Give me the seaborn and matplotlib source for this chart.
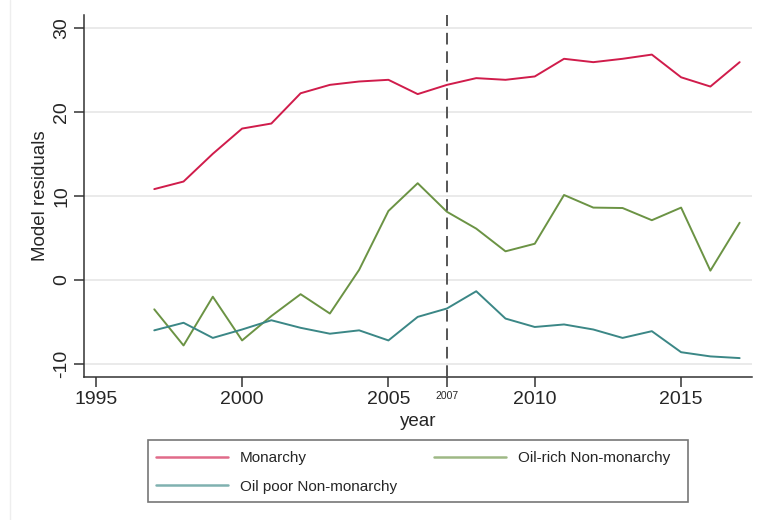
import numpy as np
import pandas as pd
import matplotlib
matplotlib.use("Agg")
import matplotlib.pyplot as plt
import seaborn as sns
from matplotlib.lines import Line2D
from matplotlib.patches import Rectangle

# values
years = list(range(1997, 2018))
monarchy = [10.8, 11.7, 15.0, 18.0, 18.6, 22.2, 23.2, 23.6, 23.8, 22.1, 23.2,
            24.0, 23.8, 24.2, 26.3, 25.9, 26.3, 26.8, 24.1, 23.0, 25.9]
oil_rich = [-3.5, -7.8, -2.0, -7.2, -4.3, -1.7, -4.0, 1.2, 8.2, 11.5, 8.1,
            6.1, 3.4, 4.3, 10.1, 8.6, 8.55, 7.1, 8.6, 1.1, 6.8]
oil_poor = [-6.0, -5.1, -6.9, -5.9, -4.8, -5.7, -6.4, -6.0, -7.2, -4.4, -3.4,
            -1.35, -4.6, -5.6, -5.3, -5.9, -6.9, -6.1, -8.6, -9.1, -9.3]

groups = ["Monarchy", "Oil-rich Non-monarchy", "Oil poor Non-monarchy"]
colors = ["#d01c4b", "#6b9344", "#3b8786"]
break_year = 2007
xticks = [1995, 2000, 2005, 2010, 2015]
yticks = [-10, 0, 10, 20, 30]

df = pd.DataFrame({
    "year": years * 3,
    "resid": monarchy + oil_rich + oil_poor,
    "group": [g for g in groups for _ in years],
})

sns.set_style("white")
plt.rcParams["font.family"] = ["Liberation Sans", "DejaVu Sans"]

fig = plt.figure(figsize=(7.59, 5.2), dpi=100)
ax = fig.add_axes([0.1107, 0.275, 0.88, 0.696])

sns.lineplot(data=df, x="year", y="resid", hue="group", hue_order=groups,
             palette=colors, linewidth=1.4, legend=False, ax=ax)

ax.axvline(break_year, color="#555555", linestyle=(0, (6, 3.5)), linewidth=1.4, zorder=3)

ax.set_xlim(1994.6, 2017.42)
ax.set_ylim(-11.55, 31.5)
ax.set_xticks(xticks + [break_year])
ax.set_xticklabels([str(t) for t in xticks] + [str(break_year)])
for lab in ax.get_xticklabels():
    if lab.get_text() == str(break_year):
        lab.set_fontsize(7.5)
    else:
        lab.set_fontsize(14)
ax.set_yticks(yticks)
ax.set_yticklabels([str(t) for t in yticks], fontsize=14, rotation=90, va="center")
ax.tick_params(axis="both", direction="out", length=7, width=1.1, color="#333333",
               bottom=True, left=True, pad=3)
ax.yaxis.grid(True, color="#e8e8e8", linewidth=1.3)
ax.xaxis.grid(False)

for s in ["top", "right"]:
    ax.spines[s].set_visible(False)
for s in ["left", "bottom"]:
    ax.spines[s].set_color("#333333")
    ax.spines[s].set_linewidth(1.1)

ax.set_xlabel("year", fontsize=13.5, labelpad=3.5)
ax.set_ylabel("Model residuals", fontsize=13.5, labelpad=3)

# legend: rows are Monarchy / Oil-rich, then Oil poor (column-first fill)
order = [0, 2, 1]
handles = [Line2D([], [], color=colors[i], linewidth=1.8, alpha=0.65) for i in order]
labels = [groups[i] for i in order]
leg = fig.legend(handles, labels, loc="upper left", ncol=2,
                 bbox_to_anchor=(156 / 759, 1 - 451 / 520),
                 fontsize=11, frameon=False, borderaxespad=0, borderpad=0,
                 handlelength=4.7, handletextpad=0.8,
                 labelspacing=0.95, columnspacing=2.4)
fig.add_artist(Rectangle((148 / 759, 1 - 502 / 520), 540 / 759, 62 / 520,
                         transform=fig.transFigure, fill=False,
                         edgecolor="#777777", linewidth=1.2))

fig.add_artist(Line2D([10 / 759, 10 / 759], [0, 1], color="#eeeeee", linewidth=1))

fig.savefig("out.png", dpi=100)
